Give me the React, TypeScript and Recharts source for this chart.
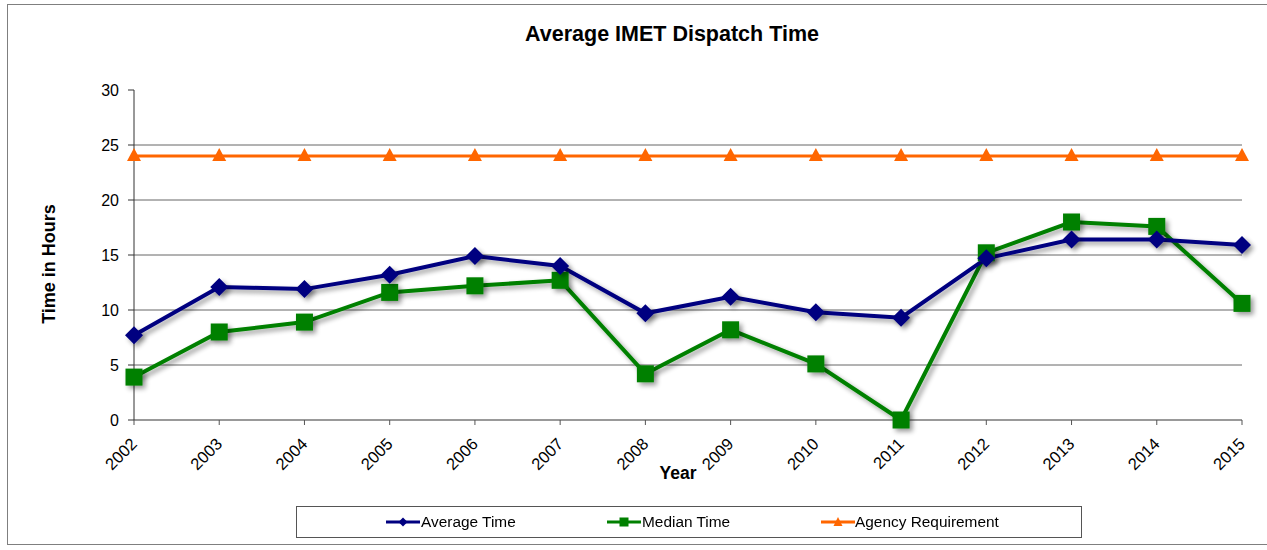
import React from "react";
import { LineChart, Line, XAxis, YAxis, ReferenceLine } from "recharts";

const years = ["2002","2003","2004","2005","2006","2007","2008","2009","2010","2011","2012","2013","2014","2015"];
const averageTime = [7.7, 12.1, 11.9, 13.2, 14.9, 14.0, 9.7, 11.2, 9.8, 9.3, 14.7, 16.4, 16.4, 15.9];
const medianTime = [3.9, 8.0, 8.9, 11.6, 12.2, 12.7, 4.2, 8.2, 5.1, 0.0, 15.2, 18.0, 17.6, 10.6];
const agencyRequirement = [24, 24, 24, 24, 24, 24, 24, 24, 24, 24, 24, 24, 24, 24];
const yTicks = [0, 5, 10, 15, 20, 25, 30];
const gridValues = [5, 10, 15, 20, 25];
const seriesNames = ["Average Time", "Median Time", "Agency Requirement"];

const NAVY = "#000080";
const GREEN = "#008000";
const ORANGE = "#FF6600";
const FONT = "Arial, 'Liberation Sans', sans-serif";

const data = years.map((y, i) => ({
  year: y,
  avg: averageTime[i],
  med: medianTime[i],
  req: agencyRequirement[i],
}));

const Diamond = (props: any) => {
  const { cx, cy, index } = props;
  if (cx == null || cy == null) return <g key={index} />;
  const r = 9;
  return (
    <path
      key={index}
      d={`M${cx},${cy - r}L${cx + r},${cy}L${cx},${cy + r}L${cx - r},${cy}Z`}
      fill={NAVY}
      stroke="none"
      filter="url(#shadow)"
    />
  );
};

const Square = (props: any) => {
  const { cx, cy, index } = props;
  if (cx == null || cy == null) return <g key={index} />;
  const r = 8.5;
  return (
    <rect
      key={index}
      x={cx - r}
      y={cy - r}
      width={2 * r}
      height={2 * r}
      fill={GREEN}
      stroke="none"
      filter="url(#shadow)"
    />
  );
};

const Triangle = (props: any) => {
  const { cx, cy, index } = props;
  if (cx == null || cy == null) return <g key={index} />;
  return (
    <path
      key={index}
      d={`M${cx},${cy - 8}L${cx + 7},${cy + 5}L${cx - 7},${cy + 5}Z`}
      fill={ORANGE}
      stroke="none"
    />
  );
};

const XTick = (props: any) => {
  const { x, y, payload } = props;
  const bx = x + 4;
  const by = y + 18;
  return (
    <text
      x={bx}
      y={by}
      textAnchor="end"
      fontSize={16.5}
      fontFamily={FONT}
      fill="#000"
      transform={`rotate(-45, ${bx}, ${by})`}
    >
      {payload.value}
    </text>
  );
};

const legendMarkers = [
  (x: number) => (
    <svg width={36} height={12} style={{ position: "absolute", left: x, top: 9 }}>
      <line x1={0} y1={6} x2={34} y2={6} stroke={NAVY} strokeWidth={3} />
      <path d="M17,1.5L21.5,6L17,10.5L12.5,6Z" fill={NAVY} />
    </svg>
  ),
  (x: number) => (
    <svg width={36} height={12} style={{ position: "absolute", left: x, top: 9 }}>
      <line x1={0} y1={6} x2={34} y2={6} stroke={GREEN} strokeWidth={3} />
      <rect x={12.5} y={1.5} width={9} height={9} fill={GREEN} />
    </svg>
  ),
  (x: number) => (
    <svg width={36} height={12} style={{ position: "absolute", left: x, top: 9 }}>
      <line x1={0} y1={6} x2={34} y2={6} stroke={ORANGE} strokeWidth={3} />
      <path d="M17,1L21.5,10L12.5,10Z" fill={ORANGE} />
    </svg>
  ),
];
const legendLineX = [89, 310, 524];
const legendTextX = [124, 345, 558];

export default function App() {
  return (
    <div
      style={{
        position: "absolute",
        left: 0,
        top: 0,
        width: 1267,
        height: 550,
        background: "#fff",
        overflow: "hidden",
        fontFamily: FONT,
      }}
    >
      <svg width={0} height={0} style={{ position: "absolute" }}>
        <defs>
          <filter id="shadow" x="-50%" y="-50%" width="200%" height="200%">
            <feGaussianBlur in="SourceAlpha" stdDeviation="2.5" />
            <feOffset dx="3" dy="3" result="off" />
            <feComponentTransfer>
              <feFuncA type="linear" slope="0.4" />
            </feComponentTransfer>
            <feMerge>
              <feMergeNode />
              <feMergeNode in="SourceGraphic" />
            </feMerge>
          </filter>
        </defs>
      </svg>
      <div
        style={{
          position: "absolute",
          left: 7,
          top: 4,
          width: 1275,
          height: 541,
          border: "1.5px solid #7f7f7f",
          boxSizing: "border-box",
        }}
      />
      <div
        style={{
          position: "absolute",
          left: 672,
          top: 24,
          transform: "translateX(-50%)",
          whiteSpace: "nowrap",
          fontSize: 21.5,
          fontWeight: "bold",
          lineHeight: 1,
          color: "#000",
        }}
      >
        Average IMET Dispatch Time
      </div>
      <div
        style={{
          position: "absolute",
          left: 49,
          top: 264,
          transform: "translate(-50%, -50%) rotate(-90deg)",
          whiteSpace: "nowrap",
          fontSize: 18,
          fontWeight: "bold",
          lineHeight: 1,
          color: "#000",
        }}
      >
        Time in Hours
      </div>
      <div
        style={{
          position: "absolute",
          left: 678,
          top: 465,
          transform: "translateX(-50%)",
          whiteSpace: "nowrap",
          fontSize: 17.5,
          fontWeight: "bold",
          lineHeight: 1,
          color: "#000",
        }}
      >
        Year
      </div>
      <div style={{ position: "absolute", left: 0, top: 0 }}>
        <LineChart
          width={1267}
          height={550}
          data={data}
          margin={{ top: 90, right: 25, bottom: 80, left: 74 }}
        >
          {gridValues.map((v) => (
            <ReferenceLine key={v} y={v} stroke="#666" strokeWidth={1} ifOverflow="visible" />
          ))}
          <XAxis
            dataKey="year"
            height={50}
            interval={0}
            tick={<XTick />}
            tickSize={5}
            tickMargin={2}
            tickLine={{ stroke: "#555" }}
            axisLine={{ stroke: "#777", strokeWidth: 1.5 }}
          />
          <YAxis
            width={60}
            domain={[0, 30]}
            ticks={yTicks}
            interval={0}
            tickSize={6}
            tickMargin={9}
            tick={{ fontSize: 16, fill: "#000", fontFamily: FONT }}
            tickLine={{ stroke: "#333" }}
            axisLine={{ stroke: "#333" }}
          />
          <Line
            dataKey="req"
            name={seriesNames[2]}
            stroke={ORANGE}
            strokeWidth={3}
            dot={<Triangle />}
            activeDot={false}
            isAnimationActive={false}
          />
          <Line
            dataKey="med"
            name={seriesNames[1]}
            stroke={GREEN}
            strokeWidth={4}
            dot={<Square />}
            activeDot={false}
            filter="url(#shadow)"
            isAnimationActive={false}
          />
          <Line
            dataKey="avg"
            name={seriesNames[0]}
            stroke={NAVY}
            strokeWidth={4}
            dot={<Diamond />}
            activeDot={false}
            filter="url(#shadow)"
            isAnimationActive={false}
          />
        </LineChart>
      </div>
      <div
        style={{
          position: "absolute",
          left: 296,
          top: 506,
          width: 786,
          height: 32,
          border: "1px solid #555",
          boxSizing: "border-box",
          background: "#fff",
        }}
      >
        {seriesNames.map((n, i) => (
          <React.Fragment key={n}>
            {legendMarkers[i](legendLineX[i])}
            <div
              style={{
                position: "absolute",
                left: legendTextX[i],
                top: 7,
                fontSize: 14,
                lineHeight: "16px",
                whiteSpace: "nowrap",
                transform: "scaleX(1.1)",
                transformOrigin: "left center",
                color: "#000",
              }}
            >
              {n}
            </div>
          </React.Fragment>
        ))}
      </div>
    </div>
  );
}
